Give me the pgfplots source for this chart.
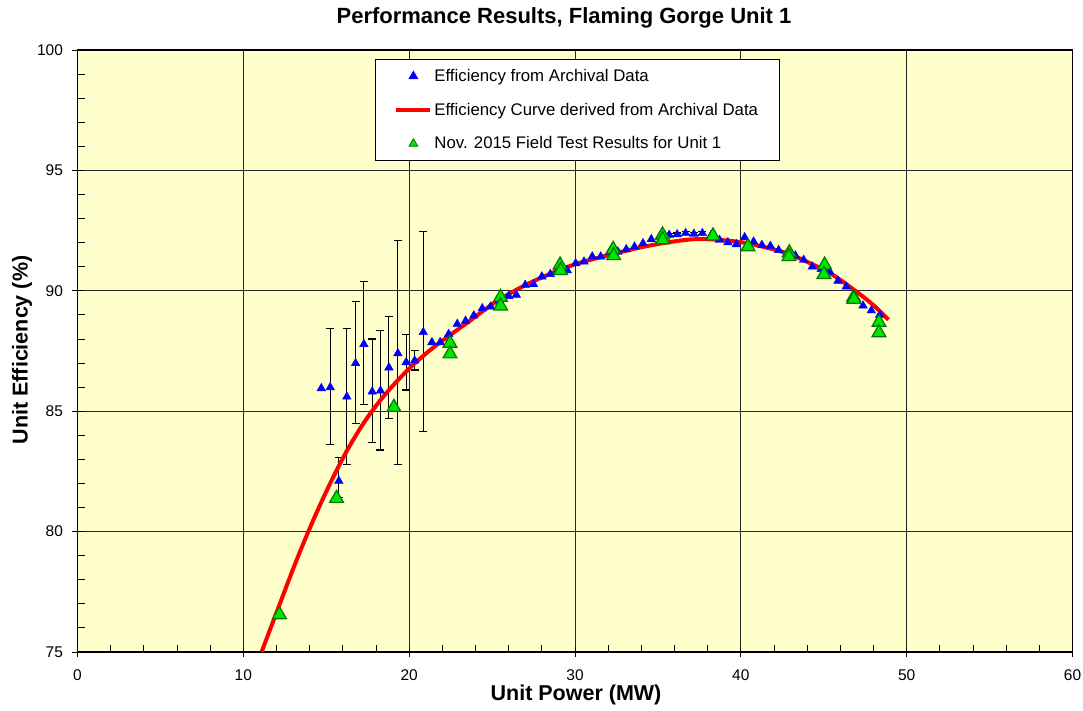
\documentclass[border=0pt]{standalone}
\usepackage{fontspec}
\setmainfont{Liberation Sans}
\usepackage{pgfplots}
\pgfplotsset{compat=1.18}
\definecolor{bgyellow}{RGB}{255,255,204}
\definecolor{mkblue}{RGB}{0,0,255}
\definecolor{mkgreen}{RGB}{0,230,0}
\definecolor{mkdkgreen}{RGB}{0,120,0}
\begin{document}
\begin{tikzpicture}
\path[use as bounding box] (-77.5pt,-59pt) rectangle (1005.5pt,652pt);
\begin{axis}[
  at={(0pt,0pt)}, anchor=south west,
  scale only axis, width=995pt, height=602pt,
  xmin=0, xmax=60, ymin=75, ymax=100,
  xtick={0,10,...,60}, ytick={75,80,...,100},
  minor x tick num=4, minor y tick num=4,
  xtick pos=left, ytick pos=left,
  tick align=center,
  major tick length=10pt, minor tick length=7pt,
  minor x tick style={yshift=3.5pt},
  minor y tick style={xshift=3.5pt},
  tick style={black, line width=0.9pt},
  grid=major,
  major grid style={black!85, line width=0.8pt},
  axis line style={black, line width=1.2pt},
  axis background/.style={fill=bgyellow},
  /pgf/number format/assume math mode=true,
  ticklabel style={font=\fontsize{15.5}{17}\selectfont},
  xticklabel style={yshift=-9pt},
  yticklabel style={xshift=-6pt},
  legend style={at={(0.299,0.985)}, anchor=north west, draw=black, line width=0.8pt,
    font=\fontsize{16.8}{19}\selectfont, row sep=16pt, inner xsep=19pt, inner ysep=8pt,
    fill=white},
  legend cell align=left,
  legend image code/.code={\draw[mark repeat=2,mark phase=2,#1] plot coordinates {(0pt,0pt)(17pt,0pt)(34pt,0pt)};},
  clip=true,
]
% error bars (drawn first)
\addplot[forget plot, only marks, mark=none,
  error bars/.cd, y dir=both, y explicit,
  error bar style={black, line width=1.1pt},
  error mark options={black, rotate=90, mark size=4pt, line width=1.1pt}]
coordinates {
(15.24,85.99) += (0,2.43) -= (0,2.39)
(15.76,82.10) += (0,0.99) -= (0,0.70)
(16.24,85.60) += (0,2.83) -= (0,2.80)
(16.77,86.99) += (0,2.56) -= (0,2.49)
(17.27,87.78) += (0,2.59) -= (0,2.52)
(17.77,85.81) += (0,2.19) -= (0,2.11)
(18.27,85.85) += (0,2.51) -= (0,2.46)
(18.78,86.81) += (0,2.11) -= (0,2.11)
(19.32,87.40) += (0,4.68) -= (0,4.63)
(19.82,87.03) += (0,1.17) -= (0,1.15)
(20.33,87.10) += (0,0.41) -= (0,0.39)
(20.85,88.28) += (0,4.20) -= (0,4.14)
(35.68,92.32) += (0,0.06) -= (0,0.06)
(36.16,92.34) += (0,0.06) -= (0,0.06)
(36.67,92.39) += (0,0.06) -= (0,0.06)
(37.17,92.36) += (0,0.06) -= (0,0.06)
(37.68,92.39) += (0,0.06) -= (0,0.06)
};
% archival data
\addplot[only marks, mark=triangle*, mark size=5pt, color=mkblue, mark options={fill=mkblue, draw=mkblue}]
coordinates {
(14.70,85.95)(15.24,85.99)(15.76,82.10)(16.24,85.60)(16.77,86.99)(17.27,87.78)
(17.77,85.81)(18.27,85.85)(18.78,86.81)(19.32,87.40)(19.82,87.03)(20.33,87.10)
(20.85,88.28)(21.37,87.86)(21.87,87.86)(22.38,88.20)(22.90,88.62)(23.40,88.75)
(23.90,88.97)(24.41,89.27)(24.91,89.34)(25.45,89.60)(26.00,89.78)(26.46,89.83)
(27.00,90.24)(27.50,90.27)(28.00,90.59)(28.51,90.69)(29.02,90.90)(29.53,90.85)
(30.04,91.14)(30.54,91.21)(31.04,91.42)(31.55,91.42)(32.09,91.62)(32.59,91.62)
(33.09,91.72)(33.59,91.83)(34.10,91.97)(34.60,92.14)(35.10,92.25)(35.68,92.32)
(36.16,92.34)(36.67,92.39)(37.17,92.36)(37.68,92.39)(38.20,92.30)(38.72,92.11)
(39.22,92.01)(39.73,91.93)(40.23,92.22)(40.77,92.04)(41.27,91.90)(41.78,91.86)
(42.28,91.69)(42.80,91.55)(43.29,91.46)(43.79,91.28)(44.31,91.00)(44.85,90.90)
(45.36,90.79)(45.86,90.41)(46.36,90.17)(46.86,89.70)(47.37,89.38)(47.87,89.18)
(48.37,89.00)
};
\addlegendentry{Efficiency from Archival Data}
% efficiency curve
\addplot[red, line width=4pt, smooth, mark=none]
coordinates {
(11.1,75.0)(12.2,77.0)(13.2,78.8)(14.2,80.45)(15.2,81.95)(16.2,83.3)(17.2,84.45)
(18.2,85.4)(19.2,86.2)(20.2,86.9)(21.2,87.5)(22.2,88.03)(23.4,88.62)(25.4,89.62)
(27.5,90.4)(30.0,91.1)(33.3,91.7)(35.5,92.0)(37.5,92.15)(40.0,92.02)(42.5,91.62)
(44.0,91.2)(45.5,90.68)(47.0,89.95)(48.0,89.4)(48.9,88.8)
};
\addlegendentry{Efficiency Curve derived from Archival Data}
% field test
\addplot[only marks, mark=triangle*, mark size=8pt, mark options={fill=mkgreen, draw=mkdkgreen, line width=1.2pt},
  legend image post style={mark size=5pt, mark options={fill=mkgreen, draw=mkdkgreen, line width=0.8pt}}]
coordinates {
(12.18,76.55)(15.62,81.38)(19.08,85.16)(22.46,87.82)(22.46,87.38)(25.51,89.73)
(25.51,89.37)(29.10,91.07)(29.13,90.84)(32.30,91.72)(32.33,91.46)(35.28,92.32)
(35.28,92.12)(38.32,92.28)(40.43,91.83)(42.92,91.58)(42.90,91.42)(45.05,91.07)
(45.01,90.68)(46.80,89.73)(46.82,89.65)(48.33,88.69)(48.33,88.26)
};
\addlegendentry{Nov. 2015 Field Test Results for Unit 1}
\end{axis}
\node[font=\bfseries\fontsize{22}{26}\selectfont] at (486.5pt,634pt) {Performance Results, Flaming Gorge Unit 1};
\node[font=\bfseries\fontsize{21.5}{25}\selectfont] at (498.5pt,-43pt) {Unit Power (MW)};
\node[font=\bfseries\fontsize{21.5}{25}\selectfont, rotate=90] at (-55.5pt,302pt) {Unit Efficiency (\%)};
\end{tikzpicture}
\end{document}
